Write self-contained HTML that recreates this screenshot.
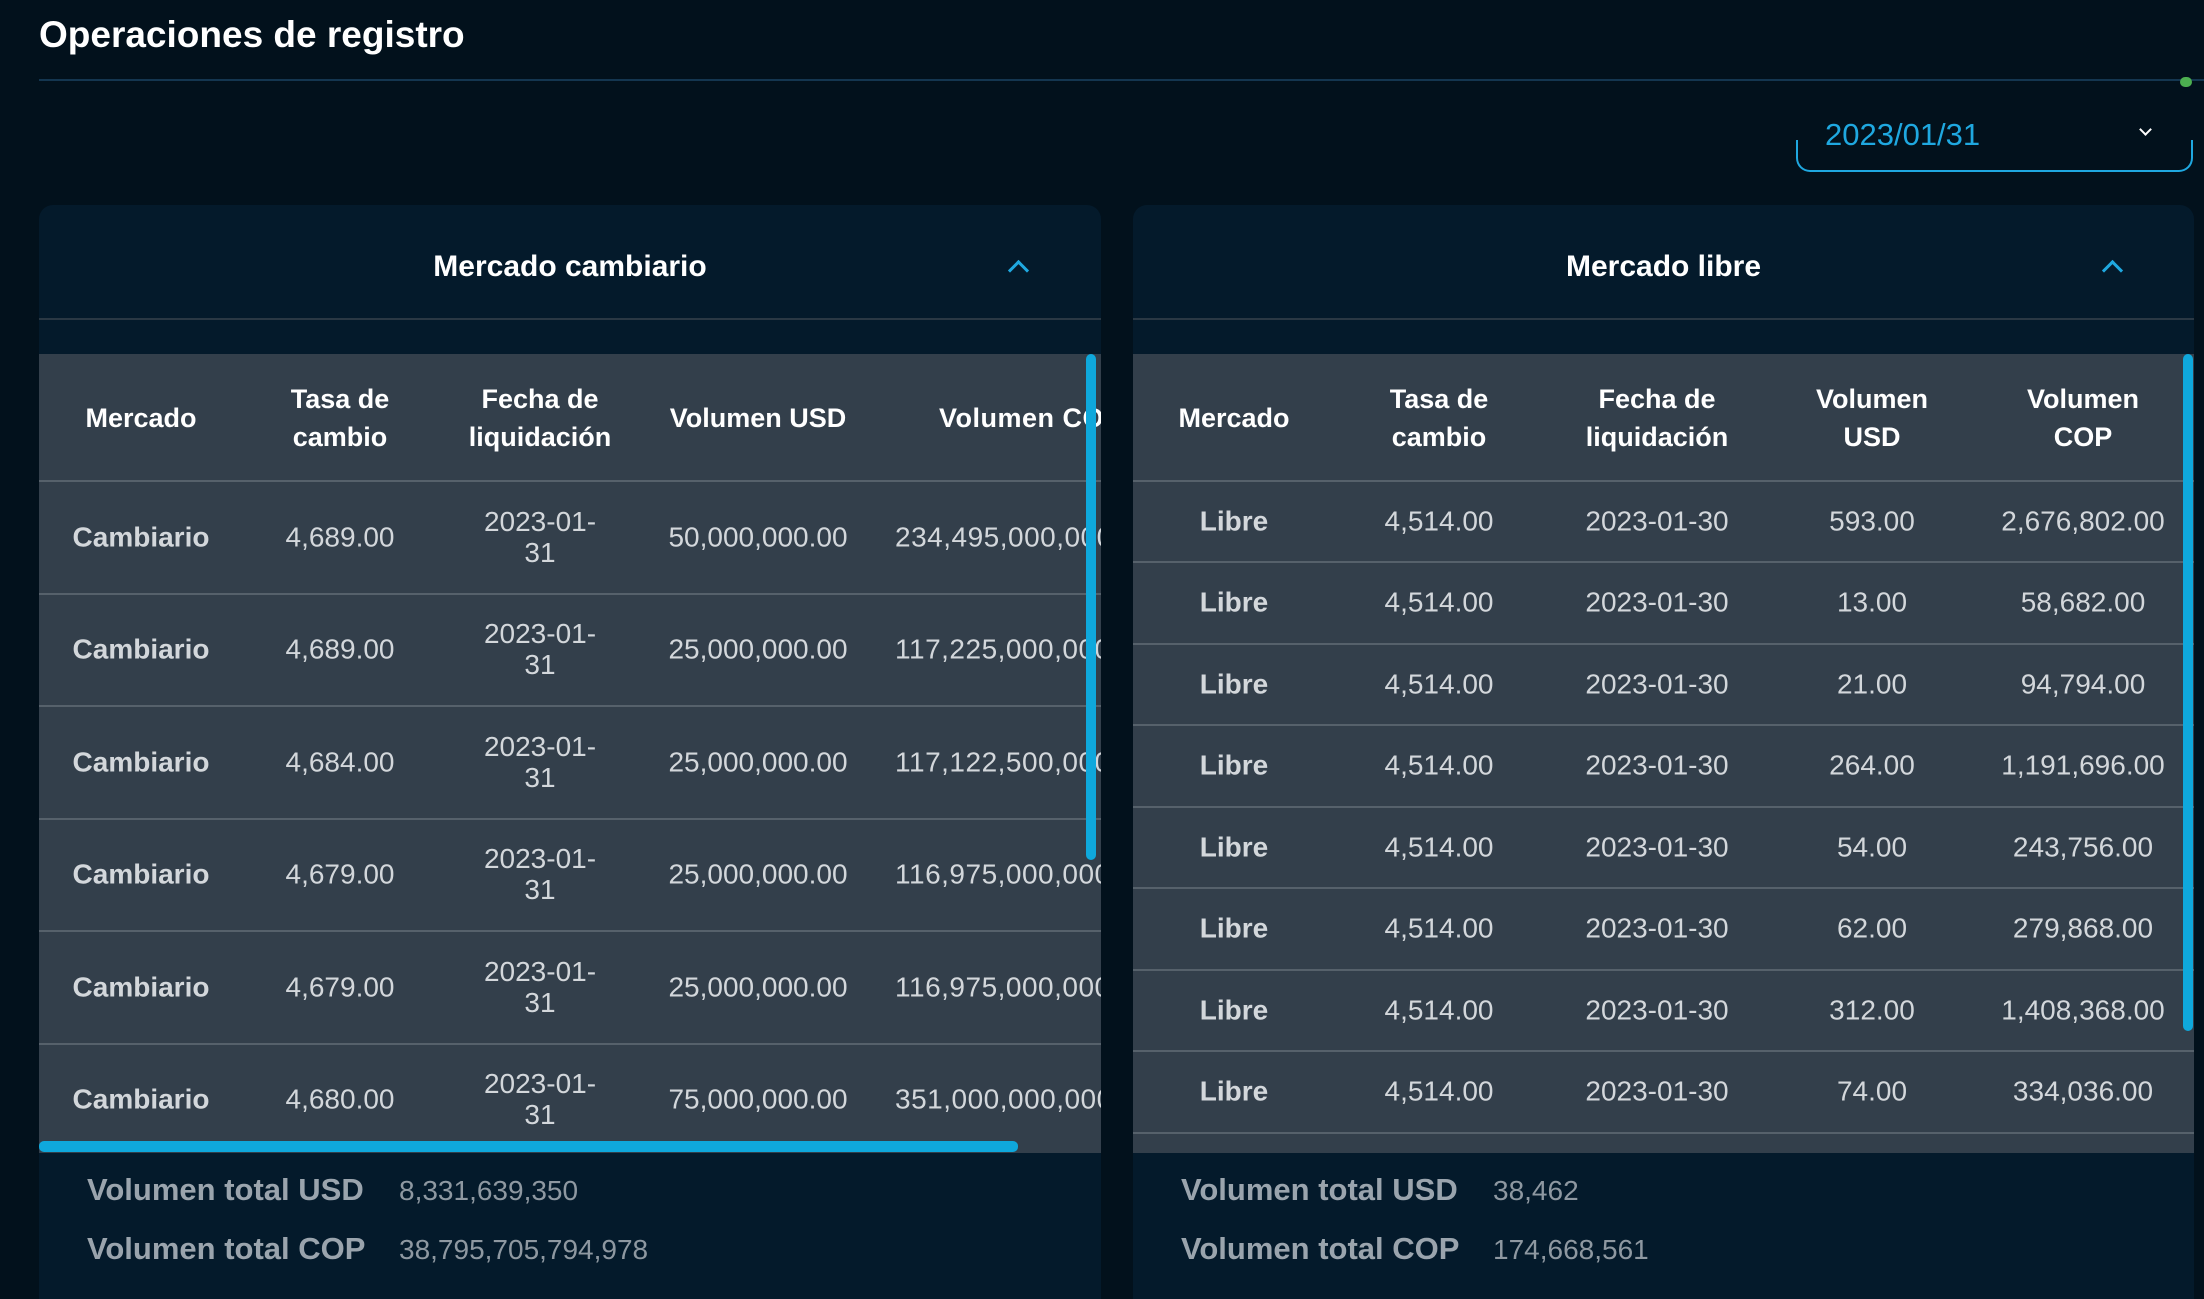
<!DOCTYPE html>
<html><head><meta charset="utf-8"><style>
*{margin:0;padding:0;box-sizing:border-box}
body{width:2204px;height:1299px;background:#02111c;font-family:"Liberation Sans",sans-serif;position:relative;overflow:hidden;color:#fff}
.abs{position:absolute}
.panel{position:absolute;top:205px;height:1094px;background:#041a2b;border-radius:14px 14px 0 0;overflow:hidden}
.hdr{position:absolute;left:0;right:0;top:0;height:115px;border-bottom:2px solid #2a3844}
.ttl{position:absolute;left:0;right:0;top:45px;text-align:center;font-size:30px;font-weight:bold}
.tbl{position:absolute;left:0;right:0;top:149px;height:799px;background:#333f4b}
.c{position:absolute;transform:translate(-50%,-50%);text-align:center;white-space:nowrap;font-size:28px;color:#d3d7db;line-height:31px}
.l{position:absolute;transform:translateY(-50%);white-space:nowrap;font-size:28px;color:#d3d7db;line-height:31px;letter-spacing:0.5px}
.h{color:#fff;font-weight:bold;font-size:27px;line-height:38px}
.b{font-weight:bold;color:#d3d7db}
.sep{position:absolute;left:0;right:0;height:2px;background:#56616b}
.ft{position:absolute;font-size:31px;color:#9aa4ad;font-weight:bold}
.fv{position:absolute;font-size:28px;color:#8e98a1}
</style></head><body>
<div class="abs" style="left:39px;top:14px;font-size:37px;font-weight:bold">Operaciones de registro</div>
<div class="abs" style="left:39px;top:79px;width:2165px;height:2px;background:#143650"></div>
<div class="abs" style="left:2180px;top:77px;width:12px;height:10px;border-radius:6px;background:#4caf50"></div>
<div class="abs" style="left:1796px;top:140px;width:397px;height:32px;border:2px solid #1fa8e0;border-top:none;border-radius:0 0 14px 14px"></div>
<div class="abs" style="left:1825px;top:117px;font-size:31px;color:#1fa8e0">2023/01/31</div>
<div class="abs" style="left:2141px;top:125px;width:9px;height:9px;border-right:2px solid #fff;border-bottom:2px solid #fff;transform:rotate(45deg)"></div>

<!-- Left panel -->
<div class="panel" style="left:39px;width:1062px">
 <div class="hdr"><div class="ttl">Mercado cambiario</div>
  <div class="abs" style="left:972px;top:58px;width:15px;height:15px;border-left:3px solid #1fa8e0;border-top:3px solid #1fa8e0;transform:rotate(45deg)"></div></div>
 <div class="tbl">
  <div class="c h" style="left:102px;top:64px">Mercado</div>
  <div class="c h" style="left:301px;top:64px">Tasa de<br>cambio</div>
  <div class="c h" style="left:501px;top:64px">Fecha de<br>liquidación</div>
  <div class="c h" style="left:719px;top:64px">Volumen USD</div>
  <div class="l h" style="left:900px;top:64px">Volumen COP</div>
  <div class="sep" style="top:126px"></div>
  <div class="sep" style="top:239px"></div>
  <div class="sep" style="top:351px"></div>
  <div class="sep" style="top:464px"></div>
  <div class="sep" style="top:576px"></div>
  <div class="sep" style="top:689px"></div>
 </div>
 <div class="ft" style="left:48px;top:967px">Volumen total USD</div>
 <div class="fv" style="left:360px;top:970px">8,331,639,350</div>
 <div class="ft" style="left:48px;top:1026px">Volumen total COP</div>
 <div class="fv" style="left:360px;top:1029px">38,795,705,794,978</div>
</div>

<!-- Right panel -->
<div class="panel" style="left:1133px;width:1061px">
 <div class="hdr"><div class="ttl">Mercado libre</div>
  <div class="abs" style="left:972px;top:58px;width:15px;height:15px;border-left:3px solid #1fa8e0;border-top:3px solid #1fa8e0;transform:rotate(45deg)"></div></div>
 <div class="tbl">
  <div class="c h" style="left:101px;top:64px">Mercado</div>
  <div class="c h" style="left:306px;top:64px">Tasa de<br>cambio</div>
  <div class="c h" style="left:524px;top:64px">Fecha de<br>liquidación</div>
  <div class="c h" style="left:739px;top:64px">Volumen<br>USD</div>
  <div class="c h" style="left:950px;top:64px">Volumen<br>COP</div>
  <div class="sep" style="top:126px"></div>
  <div class="sep" style="top:207px"></div>
  <div class="sep" style="top:289px"></div>
  <div class="sep" style="top:370px"></div>
  <div class="sep" style="top:452px"></div>
  <div class="sep" style="top:533px"></div>
  <div class="sep" style="top:615px"></div>
  <div class="sep" style="top:696px"></div>
  <div class="sep" style="top:778px"></div>
 </div>
 <div class="ft" style="left:48px;top:967px">Volumen total USD</div>
 <div class="fv" style="left:360px;top:970px">38,462</div>
 <div class="ft" style="left:48px;top:1026px">Volumen total COP</div>
 <div class="fv" style="left:360px;top:1029px">174,668,561</div>
</div>

<!-- Left rows -->
<div class="abs" style="left:39px;top:481px;width:1062px;height:672px;overflow:hidden">
 <div class="c b" style="left:102px;top:56px">Cambiario</div><div class="c" style="left:301px;top:56px">4,689.00</div><div class="c" style="left:501px;top:56px">2023-01-<br>31</div><div class="c" style="left:719px;top:56px">50,000,000.00</div><div class="l" style="left:856px;top:56px">234,495,000,000.00</div>
 <div class="c b" style="left:102px;top:168px">Cambiario</div><div class="c" style="left:301px;top:168px">4,689.00</div><div class="c" style="left:501px;top:168px">2023-01-<br>31</div><div class="c" style="left:719px;top:168px">25,000,000.00</div><div class="l" style="left:856px;top:168px">117,225,000,000.00</div>
 <div class="c b" style="left:102px;top:281px">Cambiario</div><div class="c" style="left:301px;top:281px">4,684.00</div><div class="c" style="left:501px;top:281px">2023-01-<br>31</div><div class="c" style="left:719px;top:281px">25,000,000.00</div><div class="l" style="left:856px;top:281px">117,122,500,000.00</div>
 <div class="c b" style="left:102px;top:393px">Cambiario</div><div class="c" style="left:301px;top:393px">4,679.00</div><div class="c" style="left:501px;top:393px">2023-01-<br>31</div><div class="c" style="left:719px;top:393px">25,000,000.00</div><div class="l" style="left:856px;top:393px">116,975,000,000.00</div>
 <div class="c b" style="left:102px;top:506px">Cambiario</div><div class="c" style="left:301px;top:506px">4,679.00</div><div class="c" style="left:501px;top:506px">2023-01-<br>31</div><div class="c" style="left:719px;top:506px">25,000,000.00</div><div class="l" style="left:856px;top:506px">116,975,000,000.00</div>
 <div class="c b" style="left:102px;top:618px">Cambiario</div><div class="c" style="left:301px;top:618px">4,680.00</div><div class="c" style="left:501px;top:618px">2023-01-<br>31</div><div class="c" style="left:719px;top:618px">75,000,000.00</div><div class="l" style="left:856px;top:618px">351,000,000,000.00</div>
</div>
<div class="abs" style="left:39px;top:1141px;width:979px;height:11px;border-radius:5px;background:#0fa8dc"></div>
<div class="abs" style="left:1086px;top:354px;width:10px;height:506px;border-radius:5px;background:#0fa8dc"></div>

<!-- Right rows -->
<div class="abs" style="left:1133px;top:481px;width:1050px;height:672px;overflow:hidden">
 <div class="c b" style="left:101px;top:40px">Libre</div><div class="c" style="left:306px;top:40px">4,514.00</div><div class="c" style="left:524px;top:40px">2023-01-30</div><div class="c" style="left:739px;top:40px">593.00</div><div class="c" style="left:950px;top:40px">2,676,802.00</div>
 <div class="c b" style="left:101px;top:121px">Libre</div><div class="c" style="left:306px;top:121px">4,514.00</div><div class="c" style="left:524px;top:121px">2023-01-30</div><div class="c" style="left:739px;top:121px">13.00</div><div class="c" style="left:950px;top:121px">58,682.00</div>
 <div class="c b" style="left:101px;top:203px">Libre</div><div class="c" style="left:306px;top:203px">4,514.00</div><div class="c" style="left:524px;top:203px">2023-01-30</div><div class="c" style="left:739px;top:203px">21.00</div><div class="c" style="left:950px;top:203px">94,794.00</div>
 <div class="c b" style="left:101px;top:284px">Libre</div><div class="c" style="left:306px;top:284px">4,514.00</div><div class="c" style="left:524px;top:284px">2023-01-30</div><div class="c" style="left:739px;top:284px">264.00</div><div class="c" style="left:950px;top:284px">1,191,696.00</div>
 <div class="c b" style="left:101px;top:366px">Libre</div><div class="c" style="left:306px;top:366px">4,514.00</div><div class="c" style="left:524px;top:366px">2023-01-30</div><div class="c" style="left:739px;top:366px">54.00</div><div class="c" style="left:950px;top:366px">243,756.00</div>
 <div class="c b" style="left:101px;top:447px">Libre</div><div class="c" style="left:306px;top:447px">4,514.00</div><div class="c" style="left:524px;top:447px">2023-01-30</div><div class="c" style="left:739px;top:447px">62.00</div><div class="c" style="left:950px;top:447px">279,868.00</div>
 <div class="c b" style="left:101px;top:529px">Libre</div><div class="c" style="left:306px;top:529px">4,514.00</div><div class="c" style="left:524px;top:529px">2023-01-30</div><div class="c" style="left:739px;top:529px">312.00</div><div class="c" style="left:950px;top:529px">1,408,368.00</div>
 <div class="c b" style="left:101px;top:610px">Libre</div><div class="c" style="left:306px;top:610px">4,514.00</div><div class="c" style="left:524px;top:610px">2023-01-30</div><div class="c" style="left:739px;top:610px">74.00</div><div class="c" style="left:950px;top:610px">334,036.00</div>
</div>
<div class="abs" style="left:2183px;top:354px;width:10px;height:677px;border-radius:5px;background:#0fa8dc"></div>
</body></html>
